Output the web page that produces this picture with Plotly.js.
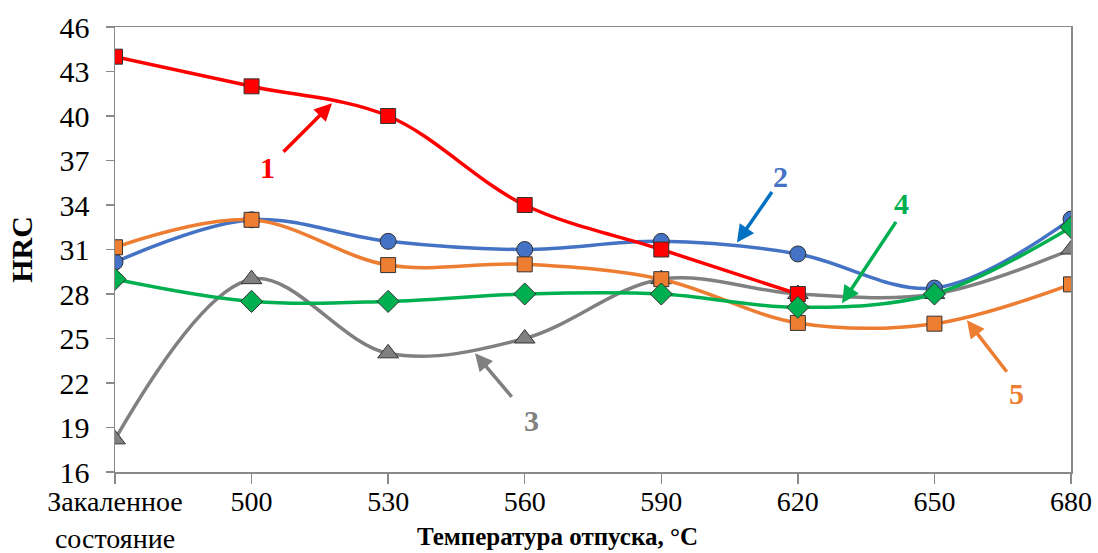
<!DOCTYPE html>
<html>
<head>
<meta charset="utf-8">
<script src="https://cdn.plot.ly/plotly-3.0.1.min.js"></script>
<style>html,body{margin:0;padding:0;background:#fff;}#chart{width:1098px;height:553px;}</style>
</head>
<body>
<div id="chart"></div>
<script>
const categories = ['Закаленное<br>состояние', '500', '530', '560', '590', '620', '650', '680'];
const series1 = [44, 42, 40, 34, 31, 28];
const series2 = [30.15, 33, 31.55, 31, 31.55, 30.7, 28.4, 33.05];
const series3 = [18.2, 29, 24, 25, 29, 28, 28, 31];
const series4 = [29, 27.5, 27.5, 28, 28, 27.1, 28, 32.5];
const series5 = [31.15, 33, 29.95, 30, 29, 26.05, 26, 28.65];
const yTicks = [16, 19, 22, 25, 28, 31, 34, 37, 40, 43, 46];
const labels = ['1', '2', '3', '4', '5'];

const F = "Liberation Serif";
const edge = '#333333';
function tr(y, color, symbol, size) {
  return {
    x: categories.slice(0, y.length), y: y, type: 'scatter', mode: 'lines+markers',
    line: {color: color, width: 3.5, shape: 'spline', smoothing: 1},
    marker: {color: color, symbol: symbol, size: size, line: {color: edge, width: 1}},
    showlegend: false, hoverinfo: 'skip'
  };
}
const data = [
  tr(series3, '#808080', 'triangle-up', 18),
  tr(series2, '#4472C4', 'circle', 16),
  tr(series5, '#ED7D31', 'square', 15),
  tr(series1, '#FF0000', 'square', 15),
  tr(series4, '#00B050', 'diamond', 17)
];

function arrow(x, y, ax, ay, color) {
  return {x: x, y: y, xref: 'x', yref: 'y', ax: ax, ay: ay, text: '', showarrow: true,
    arrowhead: 2, arrowsize: 1, arrowwidth: 3.5, arrowcolor: color, standoff: 0, startstandoff: 0};
}
function label(x, y, t, color) {
  return {x: x, y: y, xref: 'x', yref: 'y', text: '<b>' + t + '</b>', showarrow: false,
    font: {family: F, size: 30, color: color}};
}

const annotations = [
  arrow(1.589, 40.86, -50, 50, '#FF0000'),
  label(1.12, 36.5, labels[0], '#FF0000'),
  arrow(4.554, 31.47, 36, -52, '#0070C0'),
  label(4.87, 35.9, labels[1], '#4472C4'),
  arrow(2.636, 24.0, 38, 45, '#808080'),
  label(3.05, 19.5, labels[2], '#808080'),
  arrow(5.323, 27.37, 55, -83, '#00B050'),
  label(5.76, 34.1, labels[3], '#00B050'),
  arrow(6.238, 26.23, 41, 53, '#ED7D31'),
  label(6.6, 21.3, labels[4], '#ED7D31'),
  {x: 0.463, y: -0.145, xref: 'paper', yref: 'paper', xanchor: 'center', yanchor: 'middle',
   text: '<b>Температура отпуска, °C</b>', showarrow: false, font: {family: F, size: 25, color: '#000'}}
];

const layout = {
  width: 1098, height: 553,
  margin: {l: 115, r: 27, t: 27, b: 81},
  paper_bgcolor: '#fff', plot_bgcolor: '#fff',
  font: {family: F, size: 30, color: '#000'},
  xaxis: {
    type: 'category', range: [0, 7], showgrid: false, zeroline: false,
    showline: true, linecolor: '#898989', linewidth: 1.5, mirror: true,
    ticks: 'outside', ticklen: 10, tickcolor: '#898989', tickwidth: 1.5,
    tickfont: {family: F, size: 28, color: '#000'}, ticklabelstandoff: -6
  },
  yaxis: {
    range: [16, 46], tickvals: yTicks, showgrid: false, zeroline: false,
    showline: true, linecolor: '#898989', linewidth: 1.5, mirror: true,
    ticks: 'outside', ticklen: 8, tickcolor: '#898989', tickwidth: 1.5,
    tickfont: {family: F, size: 30, color: '#000'}, ticklabelstandoff: 10,
    title: {text: '<b>HRC</b>', font: {family: F, size: 30, color: '#000'}, standoff: 18}
  },
  xaxis2: {
    overlaying: 'x', anchor: 'y', range: [0, 7], tickvals: [0, 1, 2, 3, 4, 5, 6, 7],
    showticklabels: false, showgrid: false, zeroline: false, showline: false,
    ticks: 'inside', ticklen: 9, tickcolor: '#898989', tickwidth: 1.5, side: 'bottom'
  },
  yaxis2: {
    overlaying: 'y', anchor: 'x', range: [16, 46], tickvals: yTicks,
    showticklabels: false, showgrid: false, zeroline: false, showline: false,
    ticks: 'inside', ticklen: 8, tickcolor: '#898989', tickwidth: 1.5, side: 'left'
  },
  annotations: annotations
};
Plotly.newPlot('chart', data, layout, {staticPlot: true, displayModeBar: false});
</script>
</body>
</html>
